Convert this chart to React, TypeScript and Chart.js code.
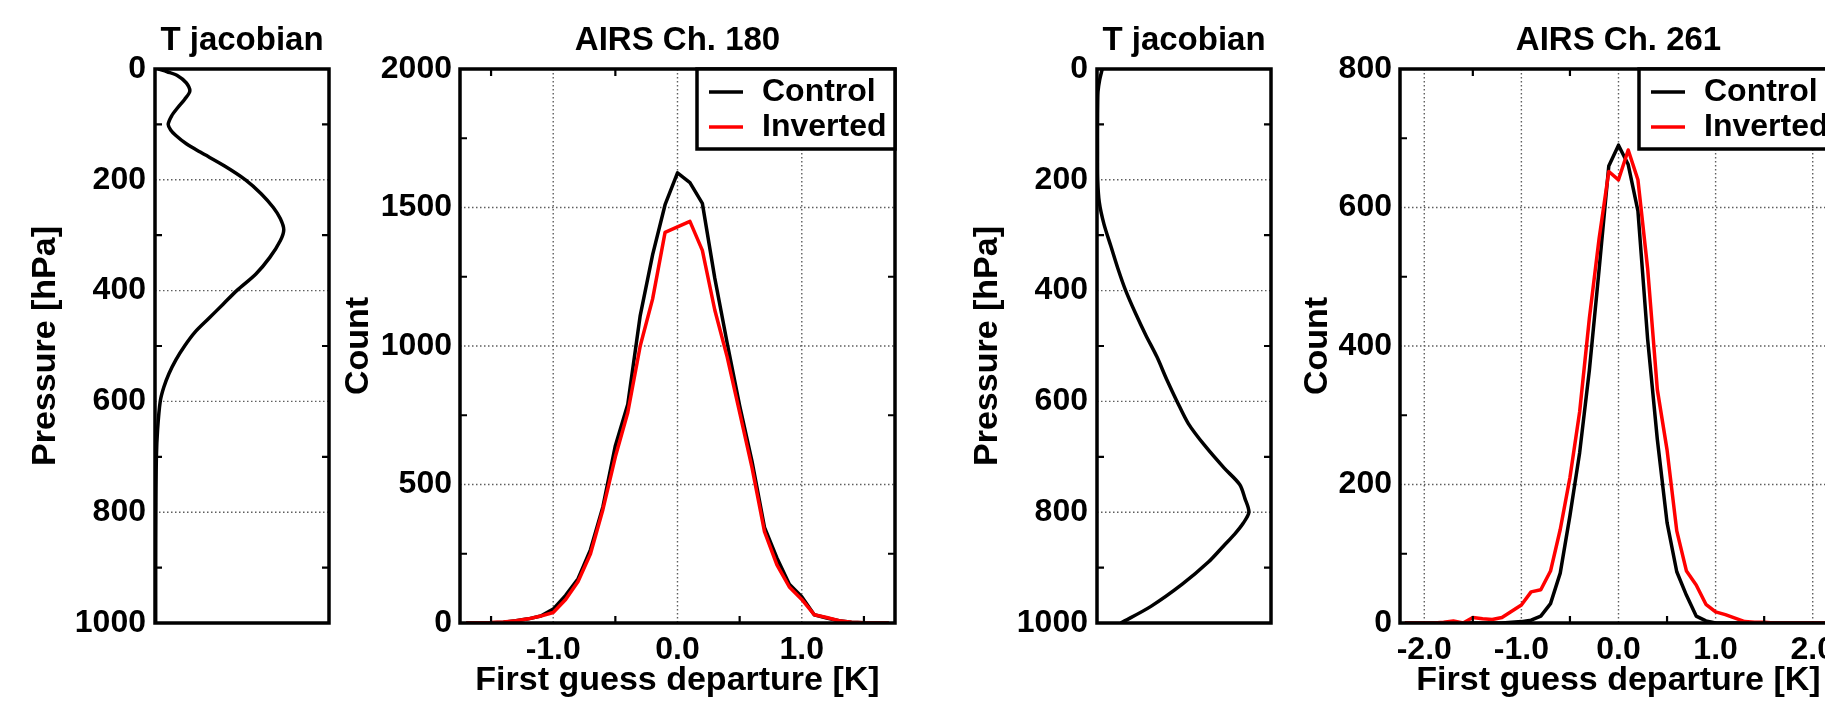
import React, { useEffect, useRef } from "react";
import { Chart, registerables } from "chart.js";

Chart.register(...registerables);

const FONT_FAMILY = '"Liberation Sans", Arial, Helvetica, sans-serif';
Chart.defaults.font.family = FONT_FAMILY;
Chart.defaults.color = "#000";

// ---------------- data ----------------
// Temperature jacobian, AIRS channel 180 (normalised sensitivity vs pressure)
const JAC180_PRESSURE = [0, 5, 12, 25, 40, 55, 70, 85, 100, 110, 120, 135, 150, 175, 200, 225, 250, 270, 290, 310, 340, 370, 400, 425, 450, 475, 500, 525, 550, 575, 600, 650, 700, 800, 900, 1000];
const JAC180_VALUES = [0.02, 0.07, 0.13, 0.18, 0.2, 0.17, 0.13, 0.095, 0.076, 0.09, 0.12, 0.18, 0.26, 0.4, 0.52, 0.61, 0.68, 0.72, 0.74, 0.72, 0.66, 0.58, 0.47, 0.39, 0.31, 0.23, 0.17, 0.12, 0.08, 0.05, 0.03, 0.015, 0.008, 0.005, 0.004, 0.004];

// Temperature jacobian, AIRS channel 261
const JAC261_PRESSURE = [0, 20, 40, 60, 100, 150, 200, 240, 280, 320, 360, 400, 440, 480, 520, 560, 600, 640, 680, 720, 750, 775, 800, 820, 840, 860, 890, 930, 970, 1000];
const JAC261_VALUES = [0.03, 0.015, 0.006, 0.004, 0.003, 0.003, 0.004, 0.013, 0.04, 0.08, 0.12, 0.165, 0.22, 0.28, 0.345, 0.4, 0.46, 0.525, 0.62, 0.73, 0.82, 0.85, 0.873, 0.84, 0.79, 0.73, 0.64, 0.49, 0.31, 0.137];

// Histograms of first guess departure, AIRS channel 180
const DEP180 = [-1.7, -1.6, -1.5, -1.4, -1.3, -1.2, -1.1, -1.0, -0.9, -0.8, -0.7, -0.6, -0.5, -0.4, -0.3, -0.2, -0.1, 0.0, 0.1, 0.2, 0.3, 0.4, 0.5, 0.6, 0.7, 0.8, 0.9, 1.0, 1.1, 1.2, 1.3, 1.4, 1.5, 1.6, 1.7];
const CONTROL180 = [0, 0, 1, 3, 8, 15, 25, 50, 100, 160, 265, 420, 640, 790, 1110, 1330, 1510, 1625, 1590, 1515, 1245, 1010, 785, 583, 345, 235, 140, 95, 30, 18, 8, 3, 1, 0, 0];
const INVERTED180 = [0, 1, 2, 4, 8, 15, 25, 38, 85, 150, 250, 410, 600, 760, 1000, 1170, 1410, 1430, 1450, 1345, 1130, 960, 760, 560, 330, 210, 130, 85, 30, 20, 8, 3, 1, 0, 0];

// Histograms of first guess departure, AIRS channel 261
const DEP261 = [-2.2, -2.1, -2.0, -1.9, -1.8, -1.7, -1.6, -1.5, -1.4, -1.3, -1.2, -1.1, -1.0, -0.9, -0.8, -0.7, -0.6, -0.5, -0.4, -0.3, -0.2, -0.1, 0.0, 0.1, 0.2, 0.3, 0.4, 0.5, 0.6, 0.7, 0.8, 0.9, 1.0, 1.1, 1.2, 1.3, 1.4, 1.5, 1.6, 1.7, 1.8, 1.9, 2.0, 2.1, 2.2];
const CONTROL261 = [0, 0, 0, 0, 0, 0, 0, 0, 0, 0, 0, 1, 2, 4, 10, 28, 72, 155, 246, 365, 510, 660, 690, 662, 595, 410, 265, 145, 74, 40, 10, 3, 0, 0, 0, 0, 0, 0, 0, 0, 0, 0, 0, 0, 0];
const INVERTED261 = [0, 0, 0, 0, 1, 3, 0, 8, 6, 5, 8, 17, 26, 45, 48, 75, 135, 210, 305, 440, 555, 652, 640, 683, 640, 512, 337, 250, 133, 75, 55, 27, 16, 12, 7, 2, 1, 1, 0, 0, 0, 0, 0, 0, 0];

// tick values
const PRESSURE_TICKS = [0, 200, 400, 600, 800, 1000];
const PRESSURE_GRID = [200, 400, 600, 800];
const PRESSURE_MINOR = [100, 300, 500, 700, 900];
const COUNT180_TICKS = [0, 500, 1000, 1500, 2000];
const COUNT180_GRID = [500, 1000, 1500];
const COUNT180_MINOR = [250, 750, 1250, 1750];
const COUNT261_TICKS = [0, 200, 400, 600, 800];
const COUNT261_GRID = [200, 400, 600];
const COUNT261_MINOR = [100, 300, 500, 700];
const DEP180_TICKS = [-1, 0, 1];
const DEP261_TICKS = [-2, -1, 0, 1, 2];
const DEP_MINOR = [-2.5, -1.5, -0.5, 0.5, 1.5, 2.5];

const SERIES_LABELS = ["Control", "Inverted"];
const SERIES_COLORS = ["#000000", "#ff0000"];

// ---------------- helpers ----------------
const H = 702;
const BOTTOM_AREA = 79;
const CURVE_WIDTH = 3.5;

function font(size: number) {
  return { family: FONT_FAMILY, size, weight: "bold" as const, lineHeight: 1 };
}

function makeDecor(d: { gridX: number[]; gridY: number[]; minorX: number[]; minorY: number[]; legend: boolean }) {
  return {
    id: "decor",
    beforeDatasetsDraw(chart: any) {
      const { ctx, chartArea: a, scales } = chart;
      ctx.save();
      ctx.strokeStyle = "#5e5e5e";
      ctx.lineWidth = 1.4;
      ctx.setLineDash([1.5, 2.5]);
      ctx.beginPath();
      for (const v of d.gridX) {
        const p = scales.x.getPixelForValue(v);
        ctx.moveTo(p, a.top);
        ctx.lineTo(p, a.bottom);
      }
      for (const v of d.gridY) {
        const p = scales.y.getPixelForValue(v);
        ctx.moveTo(a.left, p);
        ctx.lineTo(a.right, p);
      }
      ctx.stroke();
      ctx.restore();
    },
    afterDatasetsDraw(chart: any) {
      const { ctx, chartArea: a, scales } = chart;
      ctx.save();
      ctx.strokeStyle = "#000";
      ctx.lineWidth = 2.2;
      const L = 7;
      ctx.beginPath();
      for (const v of d.minorX) {
        if (v <= scales.x.min || v >= scales.x.max) continue;
        const p = scales.x.getPixelForValue(v);
        ctx.moveTo(p, a.top);
        ctx.lineTo(p, a.top + L);
        ctx.moveTo(p, a.bottom);
        ctx.lineTo(p, a.bottom - L);
      }
      for (const v of d.minorY) {
        const p = scales.y.getPixelForValue(v);
        ctx.moveTo(a.left, p);
        ctx.lineTo(a.left + L, p);
        ctx.moveTo(a.right, p);
        ctx.lineTo(a.right - L, p);
      }
      ctx.stroke();
      ctx.lineWidth = 3.5;
      ctx.strokeRect(a.left, a.top, a.right - a.left, a.bottom - a.top);

      if (d.legend) {
        const lw = 198;
        const lh = 80;
        const lx = a.right - lw;
        const ly = a.top;
        ctx.fillStyle = "#fff";
        ctx.fillRect(lx, ly, lw, lh);
        ctx.strokeStyle = "#000";
        ctx.lineWidth = 3.5;
        ctx.strokeRect(lx, ly, lw, lh);
        chart.data.datasets.forEach((ds: any, i: number) => {
          const y = ly + 23 + i * 35;
          ctx.strokeStyle = ds.borderColor;
          ctx.lineWidth = CURVE_WIDTH;
          ctx.beginPath();
          ctx.moveTo(lx + 12, y);
          ctx.lineTo(lx + 46, y);
          ctx.stroke();
          ctx.fillStyle = "#000";
          ctx.font = `bold 32px ${FONT_FAMILY}`;
          ctx.textAlign = "left";
          ctx.textBaseline = "middle";
          ctx.fillText(ds.label, lx + 65, y);
        });
      }
      ctx.restore();
    },
  };
}

function yAxis(opts: { max: number; ticks: number[]; reverse: boolean; width: number; title: string; titlePad: number; tickPad: number }) {
  return {
    type: "linear",
    position: "left",
    min: 0,
    max: opts.max,
    reverse: opts.reverse,
    grid: { display: false, drawTicks: false },
    border: { display: false },
    afterBuildTicks: (s: any) => {
      s.ticks = opts.ticks.map((v) => ({ value: v }));
    },
    afterFit: (s: any) => {
      s.width = opts.width;
    },
    ticks: {
      autoSkip: false,
      padding: opts.tickPad,
      color: "#000",
      font: font(32),
      callback: (v: any) => String(v),
    },
    title: {
      display: true,
      text: opts.title,
      color: "#000",
      font: font(34),
      padding: { top: opts.titlePad, bottom: 0 },
    },
  };
}

function titleOpts(text: string) {
  return {
    display: true,
    text,
    fullSize: false,
    color: "#000",
    font: font(33),
    padding: { top: 24, bottom: 12 },
  };
}

function jacConfig(pressure: number[], values: number[], padRight: number) {
  return {
    type: "line",
    data: {
      datasets: [
        {
          label: "T jacobian",
          data: pressure.map((p, i) => ({ x: values[i], y: p })),
          borderColor: "#000",
          borderWidth: CURVE_WIDTH,
          pointRadius: 0,
          tension: 0.3,
          fill: false,
          borderJoinStyle: "round",
        },
      ],
    },
    options: {
      responsive: false,
      animation: false,
      devicePixelRatio: 1,
      indexAxis: "y",
      layout: { padding: { left: 0, right: padRight, top: 0, bottom: BOTTOM_AREA } },
      plugins: {
        legend: { display: false },
        tooltip: { enabled: false },
        title: titleOpts("T jacobian"),
      },
      scales: {
        x: { type: "linear", display: false, min: 0, max: 1 },
        y: yAxis({ max: 1000, ticks: PRESSURE_TICKS, reverse: true, width: 155, title: "Pressure [hPa]", titlePad: 29, tickPad: 9 }),
      },
    },
    plugins: [makeDecor({ gridX: [], gridY: PRESSURE_GRID, minorX: [], minorY: PRESSURE_MINOR, legend: false })],
  };
}

function histConfig(
  title: string,
  dep: number[],
  control: number[],
  inverted: number[],
  xRange: number,
  xTicks: number[],
  yMax: number,
  yTicks: number[],
  yGrid: number[],
  yMinor: number[],
  countPad: number,
  padRight: number
) {
  const series = [control, inverted];
  return {
    type: "line",
    data: {
      datasets: series.map((vals, k) => ({
        label: SERIES_LABELS[k],
        data: dep.map((x, i) => ({ x, y: vals[i] })),
        borderColor: SERIES_COLORS[k],
        borderWidth: CURVE_WIDTH,
        pointRadius: 0,
        tension: 0,
        fill: false,
        borderJoinStyle: "round",
        order: k === 0 ? 1 : 0,
      })),
    },
    options: {
      responsive: false,
      animation: false,
      devicePixelRatio: 1,
      layout: { padding: { left: 0, right: padRight, top: 0, bottom: 0 } },
      plugins: {
        legend: { display: false },
        tooltip: { enabled: false },
        title: titleOpts(title),
      },
      scales: {
        x: {
          type: "linear",
          position: "bottom",
          min: -xRange,
          max: xRange,
          grid: { display: false, drawTicks: false },
          border: { display: false },
          afterBuildTicks: (s: any) => {
            s.ticks = xTicks.map((v) => ({ value: v }));
          },
          afterFit: (s: any) => {
            s.height = BOTTOM_AREA;
          },
          ticks: {
            autoSkip: false,
            maxRotation: 0,
            padding: 11,
            color: "#000",
            font: font(32),
            callback: (v: any) => Number(v).toFixed(1),
          },
          title: {
            display: true,
            text: "First guess departure [K]",
            color: "#000",
            font: font(34),
            padding: { top: 0, bottom: 4 },
          },
        },
        y: yAxis({ max: yMax, ticks: yTicks, reverse: false, width: 130, title: "Count", titlePad: countPad, tickPad: 8 }),
      },
    },
    plugins: [makeDecor({ gridX: xTicks, gridY: yGrid, minorX: DEP_MINOR, minorY: yMinor, legend: true })],
  };
}

type Panel = { key: string; left: number; width: number; make: () => any };

const PANELS: Panel[] = [
  { key: "jac180", left: 0, width: 339, make: () => jacConfig(JAC180_PRESSURE, JAC180_VALUES, 10) },
  {
    key: "hist180",
    left: 330,
    width: 577,
    make: () =>
      histConfig("AIRS Ch. 180", DEP180, CONTROL180, INVERTED180, 1.75, DEP180_TICKS, 2000, COUNT180_TICKS, COUNT180_GRID, COUNT180_MINOR, 12, 12),
  },
  { key: "jac261", left: 942, width: 339, make: () => jacConfig(JAC261_PRESSURE, JAC261_VALUES, 10) },
  {
    key: "hist261",
    left: 1270,
    width: 587,
    make: () =>
      histConfig("AIRS Ch. 261", DEP261, CONTROL261, INVERTED261, 2.25, DEP261_TICKS, 800, COUNT261_TICKS, COUNT261_GRID, COUNT261_MINOR, 31, 20),
  },
];

function ChartCanvas({ panel }: { panel: Panel }) {
  const ref = useRef<HTMLCanvasElement>(null);
  useEffect(() => {
    const chart = new Chart(ref.current as HTMLCanvasElement, panel.make());
    return () => chart.destroy();
  }, [panel]);
  return (
    <canvas
      ref={ref}
      width={panel.width}
      height={H}
      style={{ position: "absolute", left: panel.left, top: 0, width: panel.width, height: H }}
    />
  );
}

export default function App() {
  return (
    <div
      style={{
        position: "fixed",
        left: 0,
        top: 0,
        width: 1825,
        height: H,
        overflow: "hidden",
        background: "#fff",
      }}
    >
      {PANELS.map((p) => (
        <ChartCanvas key={p.key} panel={p} />
      ))}
    </div>
  );
}
